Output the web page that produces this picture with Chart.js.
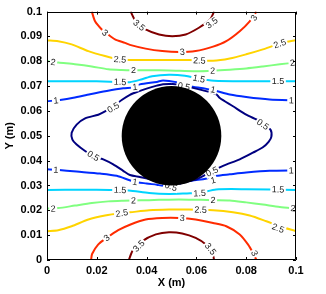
<!DOCTYPE html>
<html><head><meta charset="utf-8">
<script src="https://cdn.jsdelivr.net/npm/chart.js@4/dist/chart.umd.min.js"></script>
<style>html,body{margin:0;padding:0;background:#fff;}canvas{display:block;}</style>
</head><body>
<canvas id="c" width="326" height="294"></canvas>
<script>
// ---- Data ----
const xTickValues = [0, 0.02, 0.04, 0.06, 0.08, 0.1];
const xTickLabels = ['0', '0.02', '0.04', '0.06', '0.08', '0.1'];
const yTickValues = [0, 0.01, 0.02, 0.03, 0.04, 0.05, 0.06, 0.07, 0.08, 0.09, 0.1];
const yTickLabels = ['0', '0.01', '0.02', '0.03', '0.04', '0.05', '0.06', '0.07', '0.08', '0.09', '0.1'];

const cylinderCenter = [0.05, 0.05];
const cylinderRadius = 0.02;

const level05Loop = [[0.05,0.0709],[0.0466,0.0708],[0.0441,0.0702],[0.04,0.069],[0.0365,0.0678],[0.0333,0.0665],[0.03,0.0644],[0.0266,0.0618],[0.0233,0.0598],[0.0206,0.0585],[0.0153,0.057],[0.0119,0.0545],[0.0099,0.0512],[0.0102,0.0485],[0.0119,0.0465],[0.0153,0.0439],[0.0186,0.0419],[0.0226,0.0405],[0.0266,0.0385],[0.0306,0.0359],[0.0333,0.0342],[0.0373,0.0334],[0.0427,0.0322],[0.0466,0.0308],[0.05,0.0296],[0.0546,0.0312],[0.06,0.0325],[0.0653,0.0352],[0.0707,0.0379],[0.0774,0.0405],[0.0827,0.0432],[0.0867,0.0454],[0.089,0.0476],[0.0901,0.0496],[0.0898,0.0524],[0.0867,0.0546],[0.0854,0.0559],[0.08,0.0585],[0.0747,0.0619],[0.0694,0.0652],[0.068,0.0667],[0.0627,0.0683],[0.0573,0.0696],[0.0519,0.0707],[0.05,0.0709]];
const level1Top = [[0,0.0639],[0.0059,0.0645],[0.0106,0.0653],[0.0173,0.0667],[0.024,0.068],[0.0306,0.0691],[0.0353,0.0696],[0.0373,0.0707],[0.0441,0.0717],[0.0466,0.0723],[0.0519,0.0716],[0.0573,0.07],[0.0627,0.0691],[0.068,0.068],[0.0734,0.0666],[0.08,0.0656],[0.0894,0.0646],[0.1,0.0642]];
const level1Bottom = [[0,0.0365],[0.0039,0.0363],[0.0119,0.0356],[0.0213,0.0348],[0.028,0.0339],[0.0347,0.0316],[0.04,0.0308],[0.0441,0.0303],[0.0466,0.0299],[0.0519,0.0305],[0.0573,0.0319],[0.0627,0.0325],[0.068,0.0339],[0.0734,0.0345],[0.08,0.0352],[0.0894,0.0359],[0.1,0.0361]];
const level15Top = [[0,0.072],[0.0145,0.072],[0.0253,0.0718],[0.0333,0.0716],[0.0382,0.0728],[0.0422,0.074],[0.049,0.0746],[0.0554,0.0742],[0.061,0.073],[0.0671,0.0722],[0.0799,0.072],[0.1,0.072]];
const level15Bottom = [[0,0.0282],[0.0145,0.0283],[0.0253,0.0282],[0.0329,0.028],[0.041,0.027],[0.049,0.0266],[0.0562,0.0268],[0.0614,0.027],[0.0679,0.0284],[0.0799,0.0285],[0.1,0.0282]];
const level2Top = [[0,0.0801],[0.0045,0.0795],[0.0112,0.0788],[0.018,0.0779],[0.0246,0.0768],[0.03,0.0765],[0.0345,0.0764],[0.041,0.0764],[0.049,0.0763],[0.0598,0.076],[0.0667,0.0762],[0.0734,0.0766],[0.08,0.0771],[0.0867,0.0779],[0.0935,0.0788],[0.1,0.0795]];
const level2Bottom = [[0,0.0207],[0.0045,0.0209],[0.0112,0.0219],[0.018,0.0229],[0.0246,0.0236],[0.03,0.0239],[0.0345,0.024],[0.041,0.0241],[0.049,0.0243],[0.057,0.0243],[0.0667,0.0241],[0.0734,0.024],[0.08,0.0232],[0.0867,0.0223],[0.0935,0.0213],[0.1,0.0207]];
const level25Top = [[0,0.0884],[0.0045,0.0881],[0.0099,0.0868],[0.0166,0.0841],[0.0233,0.0821],[0.0286,0.0808],[0.0333,0.0805],[0.041,0.0805],[0.049,0.0805],[0.057,0.0805],[0.0667,0.0802],[0.0734,0.0811],[0.08,0.0828],[0.0867,0.0848],[0.0935,0.0871],[0.1,0.0885]];
const level25Bottom = [[0,0.0116],[0.0045,0.012],[0.0099,0.0136],[0.0166,0.0163],[0.0233,0.0179],[0.03,0.0189],[0.0333,0.0192],[0.041,0.02],[0.049,0.0203],[0.057,0.0203],[0.0667,0.02],[0.0747,0.0192],[0.0814,0.0179],[0.0881,0.0156],[0.0935,0.0136],[0.1,0.0116]];
const level3Top = [[0.018,0.1],[0.0193,0.0961],[0.022,0.0928],[0.024,0.0912],[0.0273,0.0888],[0.0313,0.0874],[0.0333,0.0866],[0.0396,0.0851],[0.0463,0.0841],[0.053,0.0837],[0.0597,0.0841],[0.0667,0.0859],[0.072,0.0881],[0.0774,0.0921],[0.0814,0.0961],[0.0841,0.1]];
const level3Bottom = [[0.0177,0],[0.0181,0.0024],[0.0206,0.0063],[0.024,0.0089],[0.0286,0.012],[0.0333,0.0142],[0.0396,0.0163],[0.0463,0.0169],[0.053,0.0169],[0.0597,0.0163],[0.0667,0.0149],[0.072,0.0136],[0.0774,0.0103],[0.0807,0.0063],[0.0827,0.0029],[0.0841,0]];
const level35Top = [[0.0336,0.1],[0.0356,0.0961],[0.0396,0.0928],[0.045,0.0908],[0.0503,0.0901],[0.0557,0.0908],[0.061,0.0935],[0.0655,0.0968],[0.0671,0.1]];
const level35Bottom = [[0.0329,0],[0.0343,0.0036],[0.0383,0.0076],[0.0437,0.0103],[0.049,0.0112],[0.0543,0.0107],[0.0597,0.0089],[0.0637,0.0063],[0.0664,0.0029],[0.0671,0]];

// contour label anchor points, per level
const labels05 = [[0.0266,0.0614],[0.0186,0.0419],[0.055,0.0699],[0.0498,0.0296],[0.0867,0.0546],[0.0663,0.0356]];
const labels1 = [[0.0036,0.0642],[0.0353,0.0696],[0.0667,0.0686],[0.0981,0.0643],[0.0036,0.0363],[0.0353,0.0314],[0.0667,0.0321],[0.0981,0.036]];
const labels15 = [[0.0293,0.0717],[0.061,0.073],[0.0928,0.072],[0.0293,0.0282],[0.0613,0.0269],[0.0928,0.0284]];
const labels2 = [[0.0025,0.0797],[0.0347,0.0764],[0.0665,0.0762],[0.0986,0.0794],[0.0025,0.0207],[0.0347,0.024],[0.0667,0.0241],[0.0988,0.0208]];
const labels25 = [[0.0293,0.0807],[0.0612,0.0803],[0.0935,0.0871],[0.03,0.0189],[0.0617,0.0202],[0.0928,0.0128]];
const labels3 = [[0.0233,0.0915],[0.0543,0.0838],[0.0831,0.0975],[0.024,0.0089],[0.0543,0.0169],[0.0833,0.0027]];
const labels35 = [[0.037,0.0945],[0.0662,0.0955],[0.0369,0.0056],[0.0657,0.0045]];

// ---- Build datasets ----
const levelColors = {'0.5':'#000080','1':'#002BFF','1.5':'#00D4FF','2':'#80FF80','2.5':'#FFD400','3':'#FF2B00','3.5':'#800000'};
const contourPieces = [
  ['0.5', level05Loop], ['1', level1Top], ['1', level1Bottom], ['1.5', level15Top], ['1.5', level15Bottom],
  ['2', level2Top], ['2', level2Bottom], ['2.5', level25Top], ['2.5', level25Bottom],
  ['3', level3Top], ['3', level3Bottom], ['3.5', level35Top], ['3.5', level35Bottom]
];
const labelSets = [['0.5',labels05],['1',labels1],['1.5',labels15],['2',labels2],['2.5',labels25],['3',labels3],['3.5',labels35]];

const datasets = contourPieces.map(([lvl, pts]) => ({
  label: lvl,
  data: pts.map(([x, y]) => ({x, y})),
  showLine: true,
  borderColor: levelColors[lvl],
  backgroundColor: levelColors[lvl],
  borderWidth: 2,
  pointRadius: 0,
  tension: 0.25,
  fill: false
}));

const FONT = '"Liberation Sans", Arial, Helvetica, sans-serif';

const decorPlugin = {
  id: 'decor',
  afterDatasetsDraw(chart) {
    const {ctx, scales: {x, y}} = chart;
    const area = chart.chartArea;
    ctx.save();
    ctx.beginPath();
    ctx.rect(area.left, area.top, area.right - area.left, area.bottom - area.top);
    ctx.clip();
    // contour labels
    ctx.font = '9px ' + FONT;
    ctx.textAlign = 'center';
    ctx.textBaseline = 'middle';
    labelSets.forEach(([lvl, list]) => {
      const metas = chart.data.datasets.map((d, i) => i).filter(i => chart.data.datasets[i].label === lvl);
      list.forEach(([lx, ly]) => {
        const px = x.getPixelForValue(lx), py = y.getPixelForValue(ly);
        let best = Infinity, ang = 0;
        metas.forEach(i => {
          const d = chart.data.datasets[i].data;
          for (let k = 0; k < d.length - 1; k++) {
            const ax = x.getPixelForValue(d[k].x), ay = y.getPixelForValue(d[k].y);
            const bx = x.getPixelForValue(d[k+1].x), by = y.getPixelForValue(d[k+1].y);
            const dx = bx - ax, dy = by - ay;
            const L = dx*dx + dy*dy || 1;
            let t = ((px-ax)*dx + (py-ay)*dy) / L; t = Math.max(0, Math.min(1, t));
            const qx = ax + t*dx - px, qy = ay + t*dy - py;
            const dist = qx*qx + qy*qy;
            if (dist < best) { best = dist; ang = Math.atan2(dy, dx); }
          }
        });
        if (ang > Math.PI/2) ang -= Math.PI;
        if (ang < -Math.PI/2) ang += Math.PI;
        const w = ctx.measureText(lvl).width;
        ctx.save();
        ctx.translate(px, py);
        ctx.rotate(ang);
        ctx.fillStyle = '#fff';
        ctx.fillRect(-w/2 - 1.5, -4.5, w + 3, 9);
        ctx.fillStyle = '#222';
        ctx.fillText(lvl, 0, 0.5);
        ctx.restore();
      });
    });
    // cylinder
    const cx = x.getPixelForValue(cylinderCenter[0]);
    const cy = y.getPixelForValue(cylinderCenter[1]);
    const rx = x.getPixelForValue(cylinderCenter[0] + cylinderRadius) - cx;
    const ry = cy - y.getPixelForValue(cylinderCenter[1] + cylinderRadius);
    ctx.beginPath();
    ctx.ellipse(cx, cy, rx, ry, 0, 0, Math.PI * 2);
    ctx.fillStyle = '#000';
    ctx.fill();
    ctx.restore();
  },
  afterDraw(chart) {
    const {ctx, scales: {x, y}} = chart;
    const a = chart.chartArea;
    ctx.save();
    ctx.strokeStyle = '#000';
    ctx.lineWidth = 1;
    ctx.beginPath();
    ctx.rect(Math.round(a.left) + 0.5, Math.round(a.top) + 0.5, Math.round(a.right - a.left) - 1, Math.round(a.bottom - a.top) - 1);
    ctx.stroke();
    const tl = 3;
    ctx.beginPath();
    xTickValues.forEach(v => {
      const p = Math.round(x.getPixelForValue(v)) + 0.5;
      ctx.moveTo(p, a.bottom); ctx.lineTo(p, a.bottom - tl);
      ctx.moveTo(p, a.top); ctx.lineTo(p, a.top + tl);
    });
    yTickValues.forEach(v => {
      const p = Math.round(y.getPixelForValue(v)) + 0.5;
      ctx.moveTo(a.left, p); ctx.lineTo(a.left + tl, p);
      ctx.moveTo(a.right, p); ctx.lineTo(a.right - tl, p);
    });
    ctx.stroke();
    ctx.restore();
  }
};

new Chart(document.getElementById('c'), {
  type: 'scatter',
  data: { datasets },
  options: {
    responsive: false,
    animation: false,
    devicePixelRatio: 1,
    layout: { padding: { top: 10, right: 30, left: 0, bottom: 0 } },
    plugins: { legend: { display: false }, tooltip: { enabled: false } },
    scales: {
      x: {
        type: 'linear', min: 0, max: 0.1, position: 'bottom',
        grid: { display: false, drawTicks: false },
        border: { display: false },
        afterBuildTicks: s => { s.ticks = xTickValues.map(v => ({value: v})); },
        afterFit: s => { s.height = 34; },
        ticks: { autoSkip: false, maxRotation: 0, padding: 4, color: '#000',
          font: { family: FONT, size: 11, weight: 'bold' },
          callback: (v, i) => xTickLabels[i] },
        title: { display: true, text: 'X (m)', color: '#000',
          font: { family: FONT, size: 11, weight: 'bold', lineHeight: 1.2 },
          padding: { top: 0, bottom: 4 } }
      },
      y: {
        type: 'linear', min: 0, max: 0.1, position: 'left',
        grid: { display: false, drawTicks: false },
        border: { display: false },
        afterBuildTicks: s => { s.ticks = yTickValues.map(v => ({value: v})); },
        afterFit: s => { s.width = 47; },
        ticks: { autoSkip: false, padding: 5, color: '#000',
          font: { family: FONT, size: 11, weight: 'bold' },
          callback: (v, i) => yTickLabels[i] },
        title: { display: true, text: 'Y (m)', color: '#000',
          font: { family: FONT, size: 11, weight: 'bold', lineHeight: 1.2 },
          padding: { top: 3, bottom: 0 } }
      }
    }
  },
  plugins: [decorPlugin]
});
</script>
</body></html>
